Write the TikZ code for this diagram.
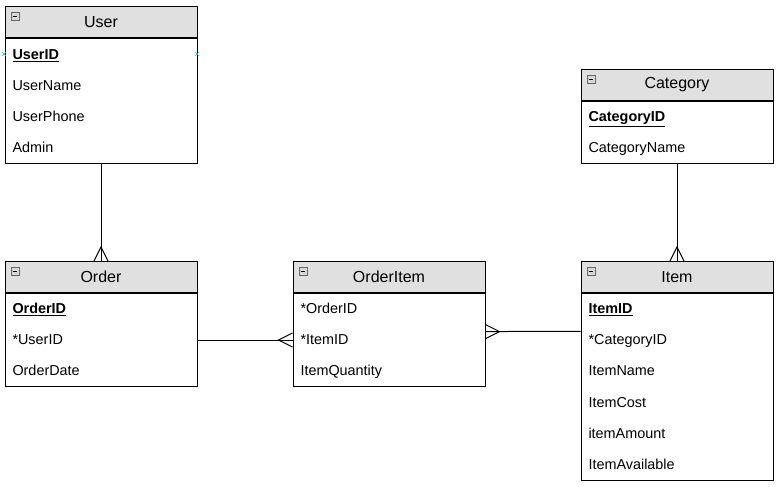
\documentclass[tikz,border=0pt]{standalone}
\usepackage{fontspec}
\setmainfont{Liberation Sans}
\usetikzlibrary{positioning,shapes.misc}
\definecolor{headgray}{HTML}{E0E0E0}
\definecolor{markblue}{HTML}{29B6F2}

\begin{document}
\begin{tikzpicture}[x=0.75pt,y=-0.75pt,
	entity/.style={rectangle, draw=black, fill=headgray, minimum width=144pt, minimum height=23.25pt, inner sep=0pt, font=\fontsize{12}{14}\selectfont},
	body/.style={rectangle, draw=black, fill=white, minimum width=144pt, inner sep=0pt},
	field/.style={anchor=base west, inner sep=0pt, font=\fontsize{10.8}{12}\selectfont},
	key/.style={field, font=\fontsize{10.8}{12}\selectfont\bfseries},
	minus/.style={rectangle, draw=black!60, fill=gray!30, minimum size=6pt, inner sep=0pt, line width=0.5pt},
	snapmark/.style={cross out, draw=markblue, minimum size=2.5pt, inner sep=0pt, line width=0.5pt},
	line width=0.75pt]

	\useasboundingbox (0,0) rectangle (778,486);

	%Tables
	\node[entity]	(user)	at (101,22)	{User};
	\node[body, minimum height=93.75pt, below=0pt of user]	(userbody)	{};
	\node[entity]	(category)	at (677,85)	{Category};
	\node[body, minimum height=46.5pt, below=0pt of category]	(categorybody)	{};
	\node[entity]	(order)	at (101,277)	{Order};
	\node[body, minimum height=69.75pt, below=0pt of order]	(orderbody)	{};
	\node[entity]	(orderitem)	at (389,277)	{OrderItem};
	\node[body, minimum height=69.75pt, below=0pt of orderitem]	(orderitembody)	{};
	\node[entity]	(item)	at (677,277)	{Item};
	\node[body, minimum height=140.25pt, below=0pt of item]	(itembody)	{};

	%Collapse icons
	\node[minus, below right=4.5pt and 4.5pt of user.north west]	(userminus)	{\rule{3.5pt}{0.8pt}};
	\node[minus, below right=4.5pt and 4.5pt of category.north west]	(categoryminus)	{\rule{3.5pt}{0.8pt}};
	\node[minus, below right=4.5pt and 4.5pt of order.north west]	(orderminus)	{\rule{3.5pt}{0.8pt}};
	\node[minus, below right=4.5pt and 4.5pt of orderitem.north west]	(orderitemminus)	{\rule{3.5pt}{0.8pt}};
	\node[minus, below right=4.5pt and 4.5pt of item.north west]	(itemminus)	{\rule{3.5pt}{0.8pt}};

	%Fields
	\node[key]	(userid)	at (12,59.5)	{\underline{UserID}};
	\node[field]	(username)	at (12,90.5)	{UserName};
	\node[field]	(userphone)	at (12,121.5)	{UserPhone};
	\node[field]	(admin)	at (12,152.5)	{Admin};

	\node[key]	(categoryid)	at (588,121.5)	{\underline{CategoryID}};
	\node[field]	(categoryname)	at (588,152.5)	{CategoryName};

	\node[key]	(orderid)	at (12,313.5)	{\underline{OrderID}};
	\node[field]	(orderuserid)	at (12,344.5)	{*UserID};
	\node[field]	(orderdate)	at (12,375.5)	{OrderDate};

	\node[field]	(oiorderid)	at (300,313.5)	{*OrderID};
	\node[field]	(oiitemid)	at (300,344.5)	{*ItemID};
	\node[field]	(itemquantity)	at (300,375.5)	{ItemQuantity};

	\node[key]	(itemid)	at (588,313.5)	{\underline{ItemID}};
	\node[field]	(itemcategoryid)	at (588,344.5)	{*CategoryID};
	\node[field]	(itemname)	at (588,375.5)	{ItemName};
	\node[field]	(itemcost)	at (588,407.5)	{ItemCost};
	\node[field]	(itemamount)	at (588,438.5)	{itemAmount};
	\node[field]	(itemavailable)	at (588,469.5)	{ItemAvailable};

	%Snap marks
	\node[snapmark]	(snapleft)	at (4,54)	{};
	\node[snapmark]	(snapright)	at (197,54)	{};

	%Lines
	\draw (userbody.south) -- (order.north);
	\draw (order.north) ++(-7,0) -- ++(7,-14) -- ++(7,14);
	\draw (categorybody.south) -- (item.north);
	\draw (item.north) ++(-7,0) -- ++(7,-14) -- ++(7,14);
	\draw (orderbody.east) -- (orderitembody.west);
	\draw (orderitembody.west) ++(0,-7) -- ++(-14,7) -- ++(14,7);
	\draw (itembody.150) -- (orderitembody.5);
	\draw (orderitembody.5) ++(0,-7) -- ++(14,7) -- ++(-14,7);
\end{tikzpicture}
\end{document}
